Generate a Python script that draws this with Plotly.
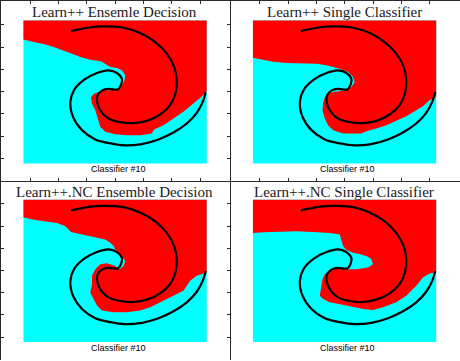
import plotly.graph_objects as go

# Panel titles and captions
TITLES = ["Learn++ Ensemle Decision", "Learn++ Single Classifier",
          "Learn++.NC Ensemble Decision", "Learn++.NC Single Classifier"]
CAPTION = "Classifier #10"

# Image extent (panel units)
IMG_X = [69, 620]
IMG_Y = [60, 490]

# Spiral arm A (upper arm, from its outer start to the centre)
ARM_A_X = [213, 260, 310, 370, 420, 465, 500, 522, 530, 526, 510, 480, 440, 400, 360, 325, 303, 291, 292, 305, 325, 345, 355]
ARM_A_Y = [92, 82, 78, 82, 98, 125, 160, 200, 240, 280, 315, 343, 362, 369, 366, 355, 335, 308, 285, 271, 266, 268, 268]
# Spiral arm B (lower arm, from its outer start to the centre)
ARM_B_X = [617, 608, 590, 560, 520, 475, 425, 375, 330, 285, 245, 218, 210, 222, 252, 290, 325, 350, 365, 363, 355]
ARM_B_Y = [276, 305, 338, 370, 397, 418, 432, 436, 430, 418, 390, 350, 305, 268, 238, 218, 210, 218, 235, 252, 267]

# Red/cyan decision boundaries (left edge -> right edge), one per panel
B1_X = [69, 100, 130, 160, 190, 215, 240, 270, 302, 312, 330, 350, 365, 375, 373, 365, 355, 330, 310, 295, 280, 272, 275, 285, 295, 300, 315, 345, 380, 420, 455, 462, 490, 520, 550, 580, 600, 620]
B1_Y = [117, 125, 131, 140, 150, 160, 170, 178, 183, 190, 200, 203, 210, 225, 240, 255, 268, 270, 270, 275, 281, 292, 310, 330, 360, 380, 395, 402, 405, 405, 400, 388, 375, 355, 335, 310, 293, 273]

B2_X = [69, 100, 130, 170, 220, 260, 290, 330, 355, 370, 375, 365, 352, 340, 310, 295, 285, 280, 278, 285, 295, 310, 340, 395, 410, 440, 470, 500, 530, 560, 580, 600, 620]
B2_Y = [172, 178, 184, 188, 188, 190, 195, 205, 215, 230, 245, 260, 270, 271, 275, 280, 290, 310, 330, 355, 375, 390, 400, 400, 393, 385, 375, 362, 348, 330, 318, 300, 290]

B3_X = [69, 100, 130, 170, 195, 212, 245, 290, 315, 330, 340, 345, 355, 365, 375, 370, 358, 345, 320, 300, 285, 275, 275, 270, 280, 290, 305, 340, 380, 420, 450, 480, 520, 550, 570, 590, 620]
B3_Y = [113, 120, 125, 130, 140, 157, 165, 175, 180, 190, 200, 210, 220, 230, 245, 260, 270, 260, 252, 255, 270, 290, 315, 340, 360, 380, 395, 400, 400, 395, 385, 370, 350, 335, 305, 290, 280]

B4_X = [69, 100, 150, 200, 250, 300, 330, 335, 340, 350, 370, 395, 415, 425, 430, 415, 380, 355, 320, 300, 285, 278, 275, 270, 280, 300, 350, 400, 430, 460, 500, 530, 560, 580, 600, 620]
B4_Y = [160, 158, 156, 155, 157, 160, 165, 180, 200, 212, 220, 225, 232, 240, 255, 265, 270, 270, 268, 275, 285, 300, 320, 350, 360, 370, 380, 390, 393, 385, 370, 350, 320, 295, 283, 278]

BOUNDS = [(B1_X, B1_Y), (B2_X, B2_Y), (B3_X, B3_Y), (B4_X, B4_Y)]

X_TICKS = [90, 175, 260, 345, 430, 515, 600]
Y_TICKS = [72, 140, 208, 275, 341, 408, 475]

RED = "#FF0000"
CYAN = "#00FFFF"
FRAME = "#2a2a2a"

W, H = 460, 361
xl, xm, xr = 0.5 / W, 230 / W, 459.5 / W
yt, ym, yb = 1 - 0.5 / H, 1 - 181 / H, 1 - 359.5 / H
domains = [([xl, xm], [ym, yt]), ([xm, xr], [ym, yt]),
           ([xl, xm], [yb, ym]), ([xm, xr], [yb, ym])]

fig = go.Figure()
layout = dict(width=W, height=H, margin=dict(l=0, r=0, t=0, b=0, pad=0),
              paper_bgcolor="white", plot_bgcolor="white", showlegend=False)

annotations = []
for i in range(4):
    k = i + 1
    xa = "x" if k == 1 else f"x{k}"
    ya = "y" if k == 1 else f"y{k}"
    bx, by = BOUNDS[i]
    fig.add_trace(go.Scatter(x=[IMG_X[0], IMG_X[1], IMG_X[1], IMG_X[0], IMG_X[0]],
                             y=[IMG_Y[0], IMG_Y[0], IMG_Y[1], IMG_Y[1], IMG_Y[0]],
                             fill="toself", fillcolor=CYAN, mode="lines", line=dict(width=0),
                             hoverinfo="skip", xaxis=xa, yaxis=ya))
    px = [IMG_X[0]] + bx + [IMG_X[1], IMG_X[0]]
    py = [IMG_Y[0]] + by + [IMG_Y[0], IMG_Y[0]]
    fig.add_trace(go.Scatter(x=px, y=py, fill="toself", fillcolor=RED, mode="lines",
                             line=dict(width=0), hoverinfo="skip", xaxis=xa, yaxis=ya))
    for sx, sy in ((ARM_A_X, ARM_A_Y), (ARM_B_X, ARM_B_Y)):
        fig.add_trace(go.Scatter(x=sx, y=sy, mode="lines",
                                 line=dict(color="black", width=2.2, shape="spline", smoothing=0.8),
                                 hoverinfo="skip", xaxis=xa, yaxis=ya))
    dx, dy = domains[i]
    top = i < 2
    ax_common = dict(showgrid=False, zeroline=False, showline=True, linecolor=FRAME, linewidth=1,
                     mirror="ticks", ticks="inside", ticklen=3, tickcolor=FRAME,
                     showticklabels=False, fixedrange=True)
    layout["xaxis" if k == 1 else f"xaxis{k}"] = dict(domain=dx, range=[0, 690], tickmode="array",
                                                      tickvals=X_TICKS, **ax_common)
    layout["yaxis" if k == 1 else f"yaxis{k}"] = dict(domain=dy, range=[543, 0] if top else [543, 3],
                                                      tickmode="array", tickvals=Y_TICKS, **ax_common)
    annotations.append(dict(x=344, y=35, xref=xa, yref=ya, text=TITLES[i], showarrow=False,
                            font=dict(family="Liberation Serif", size=15, color="#1a1a1a"),
                            xanchor="center", yanchor="middle"))
    annotations.append(dict(x=354, y=508, xref=xa, yref=ya, text=CAPTION, showarrow=False,
                            font=dict(family="Liberation Sans", size=9, color="black"),
                            xanchor="center", yanchor="middle"))

layout["annotations"] = annotations
fig.update_layout(**layout)
fig.write_html("out.html", config={"displayModeBar": False},
               post_script="document.body.style.margin='0';document.body.style.overflow='hidden';")
